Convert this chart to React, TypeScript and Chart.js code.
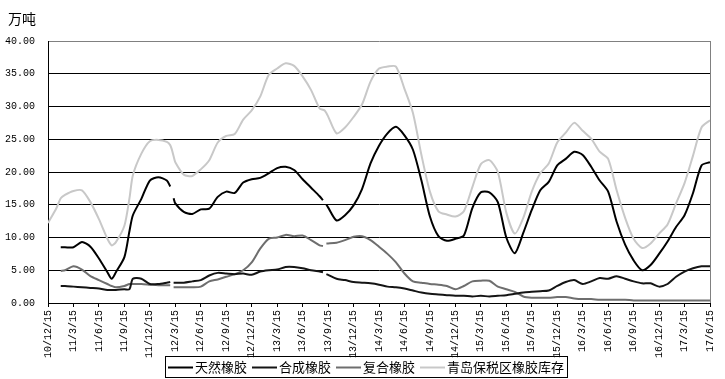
import { useEffect, useRef } from 'react';
import { Chart, registerables } from 'chart.js';

Chart.register(...registerables);

const xTickLabels = [
  '10/12/15', '11/3/15', '11/6/15', '11/9/15', '11/12/15', '12/3/15', '12/6/15', '12/9/15', '12/12/15',
  '13/3/15', '13/6/15', '13/9/15', '13/12/15', '14/3/15', '14/6/15', '14/9/15', '14/12/15',
  '15/3/15', '15/6/15', '15/9/15', '15/12/15', '16/3/15', '16/6/15', '16/9/15', '16/12/15',
  '17/3/15', '17/6/15',
];

const unitLabel = '万吨';
const seriesNames = ['天然橡胶', '合成橡胶', '复合橡胶', '青岛保税区橡胶库存'];

// months since 2010-12-15
const months = [
  0, 1, 1.5, 2, 3, 4, 5, 6, 7, 7.5, 8, 9, 9.6, 10, 11, 12, 13, 14, 14.4, 14.6, 14.8, 15,
  16, 17, 18, 19, 20, 21, 22, 23, 24, 25, 26, 27, 28, 29, 30, 31, 32, 32.4, 32.6, 32.8,
  33, 34, 35, 36, 37, 38, 39, 40, 41, 42, 43, 44, 45, 46, 47, 48, 49, 50, 51, 52, 53, 54,
  55, 56, 57, 58, 59, 60, 61, 62, 63, 64, 65, 66, 67, 68, 69, 70, 71, 72, 73, 74, 75, 76, 77, 78,
];

const natural = [
  null, null, 8.5, 8.5, 8.5, 9.3, 8.6, 6.8, 4.7, 3.7, 4.7, 7.0, 11.0, 13.4, 15.9, 18.7, 19.2, 18.7, 17.8, null, 16.0, 15.2,
  13.9, 13.6, 14.3, 14.4, 16.2, 17.0, 16.8, 18.4, 18.9, 19.1, 19.8, 20.6, 20.8, 20.3, 18.9, 17.6, 16.3, 15.7, null, 15.0,
  14.6, 12.6, 13.4, 14.9, 17.4, 21.3, 24.0, 25.9, 26.9, 25.6, 23.4, 18.7, 13.2, 10.2, 9.5, 9.8, 10.3, 14.5, 16.9, 16.9, 15.4, 10.0,
  7.6, 10.7, 14.2, 17.2, 18.5, 21.0, 22.0, 23.1, 22.6, 20.8, 18.7, 17.0, 12.4, 8.9, 6.5, 5.0, 5.8, 7.5, 9.4, 11.6, 13.4, 16.8, 21.0, 21.5,
];

const synthetic = [
  null, null, 2.6, 2.6, 2.5, 2.4, 2.3, 2.2, 2.0, 2.0, 2.0, 2.1, 2.1, 3.7, 3.7, 2.9, 2.9, 3.1, 3.2, null, 3.1, 3.1,
  3.1, 3.3, 3.5, 4.2, 4.6, 4.5, 4.4, 4.5, 4.3, 4.8, 5.0, 5.1, 5.5, 5.5, 5.3, 5.0, 4.8, 4.7, null, 4.4,
  4.3, 3.7, 3.5, 3.2, 3.1, 3.0, 2.8, 2.5, 2.4, 2.2, 1.9, 1.6, 1.4, 1.3, 1.2, 1.1, 1.1, 1.0, 1.1, 1.0, 1.1, 1.2,
  1.4, 1.6, 1.7, 1.8, 1.9, 2.6, 3.2, 3.5, 2.9, 3.3, 3.8, 3.7, 4.1, 3.7, 3.3, 3.0, 3.0, 2.5, 2.9, 4.0, 4.8, 5.3, 5.6, 5.6,
];

const composite = [
  null, null, 4.9, 5.0, 5.6, 5.1, 4.1, 3.5, 2.9, 2.6, 2.4, 2.6, 2.9, 2.9, 2.9, 2.8, 2.7, 2.7, 2.7, null, 2.4, 2.4,
  2.4, 2.4, 2.5, 3.3, 3.6, 4.0, 4.4, 5.0, 6.2, 8.3, 9.8, 10.0, 10.4, 10.2, 10.3, 9.6, 8.8, 8.7, null, 9.1,
  9.1, 9.2, 9.6, 10.1, 10.2, 9.6, 8.6, 7.5, 6.2, 4.5, 3.3, 3.1, 2.9, 2.8, 2.6, 2.1, 2.6, 3.3, 3.4, 3.4, 2.5, 2.1,
  1.7, 1.0, 0.8, 0.8, 0.8, 0.9, 0.9, 0.7, 0.6, 0.6, 0.5, 0.5, 0.5, 0.5, 0.4, 0.4, 0.4, 0.4, 0.4, 0.4, 0.4, 0.4, 0.4, 0.4,
];

const qingdao = [
  12.2, 14.5, 16.0, 16.5, 17.1, 17.2, 15.4, 12.8, 9.8, 8.8, 9.3, 11.8, 16.0, 19.5, 22.8, 24.7, 24.9, 24.6, 24.1, 23.4, 22.4, 21.5,
  19.6, 19.4, 20.4, 21.8, 24.5, 25.5, 25.8, 28.0, 29.4, 31.5, 34.8, 35.8, 36.6, 36.2, 34.6, 32.5, 29.7, 29.5, 29.4, 29.0,
  28.5, 25.9, 26.8, 28.4, 30.3, 33.8, 35.8, 36.1, 36.1, 32.7, 29.0, 22.6, 17.0, 14.0, 13.5, 13.2, 14.0, 17.7, 21.2, 21.8, 20.0, 13.8,
  10.6, 13.0, 17.0, 19.8, 21.3, 24.5, 26.0, 27.5, 26.3, 25.1, 23.1, 22.0, 17.2, 13.0, 9.8, 8.4, 9.1, 10.6, 12.0, 15.2, 18.3, 22.5, 26.8, 27.9,
];

const seriesColors = ['#000000', '#141414', '#6e6e6e', '#c8c8c8'];

export default function App() {
  const ref = useRef<HTMLCanvasElement | null>(null);

  useEffect(() => {
    document.body.style.margin = '0';
    const canvas = ref.current;
    if (!canvas) return;
    const series = [natural, synthetic, composite, qingdao];

    const decor = {
      id: 'decor',
      afterDraw(chart: any) {
        const { ctx, chartArea: a } = chart;
        ctx.save();
        // right frame border
        ctx.strokeStyle = '#808080';
        ctx.lineWidth = 1;
        ctx.beginPath();
        const rx = Math.round(a.right) + 0.5;
        ctx.moveTo(rx, a.top);
        ctx.lineTo(rx, a.bottom);
        ctx.stroke();

        // unit label
        ctx.fillStyle = '#000';
        ctx.font = '14px "Noto Sans CJK SC"';
        ctx.textBaseline = 'alphabetic';
        ctx.textAlign = 'left';
        ctx.fillText(unitLabel, 8, 24);

        // legend
        ctx.font = '13px "Noto Sans CJK SC"';
        ctx.textBaseline = 'middle';
        const boxLeft = 165;
        const midY = 367.5;
        let cx = boxLeft + 3;
        seriesNames.forEach((name, i) => {
          ctx.strokeStyle = seriesColors[i];
          ctx.lineWidth = 2;
          ctx.beginPath();
          ctx.moveTo(cx, midY);
          ctx.lineTo(cx + 25, midY);
          ctx.stroke();
          ctx.fillStyle = '#000';
          ctx.fillText(name, cx + 27, midY);
          cx += 27 + ctx.measureText(name).width + 5;
        });
        const boxRight = cx - 5 + 3;
        ctx.strokeStyle = '#000';
        ctx.lineWidth = 1;
        ctx.strokeRect(boxLeft + 0.5, 356.5, boxRight - boxLeft, 21);
        ctx.restore();
      },
    };

    const chart = new Chart(canvas, {
      type: 'line',
      data: {
        datasets: series.map((s, i) => ({
          label: seriesNames[i],
          data: months.map((m, j) => ({ x: m, y: s[j] })),
          borderColor: seriesColors[i],
          backgroundColor: seriesColors[i],
          borderWidth: 2,
          pointRadius: 0,
          tension: 0.25,
          spanGaps: false,
          fill: false,
        })),
      },
      options: {
        animation: false,
        responsive: false,
        maintainAspectRatio: false,
        layout: { padding: { top: 41, right: 10, left: 0, bottom: 0 } },
        plugins: {
          legend: { display: false },
          tooltip: { enabled: false },
          title: { display: false },
        },
        scales: {
          x: {
            type: 'linear',
            min: 0,
            max: 78,
            afterFit: (scale: any) => {
              scale.height = 76;
            },
            ticks: {
              stepSize: 3,
              autoSkip: false,
              maxRotation: 90,
              minRotation: 90,
              padding: 3,
              color: '#000',
              font: { family: '"Liberation Mono", monospace', size: 10 },
              callback: (v: any) => xTickLabels[Math.round(Number(v) / 3)] ?? '',
            },
            grid: {
              drawOnChartArea: false,
              drawTicks: true,
              tickLength: 4,
              color: '#000',
            },
            border: { color: '#000', width: 1 },
          },
          y: {
            min: 0,
            max: 40,
            afterFit: (scale: any) => {
              scale.width = 48;
            },
            ticks: {
              stepSize: 5,
              padding: 13,
              color: '#000',
              font: { family: '"Liberation Mono", monospace', size: 10 },
              callback: (v: any) => Number(v).toFixed(2),
            },
            grid: {
              drawTicks: false,
              color: (c: any) => (c.tick && c.tick.value === 40 ? '#808080' : '#000'),
            },
            border: { color: '#000', width: 1 },
          },
        },
      },
      plugins: [decor],
    });

    return () => chart.destroy();
  }, []);

  return (
    <div style={{ width: 725, height: 379 }}>
      <canvas ref={ref} width={725} height={379} style={{ display: 'block' }} />
    </div>
  );
}
